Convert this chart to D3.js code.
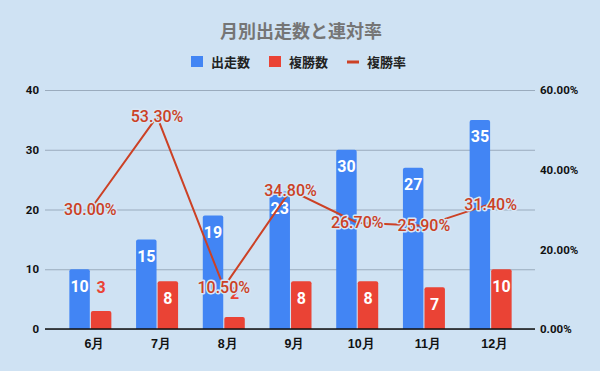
<!DOCTYPE html>
<html>
<head>
<meta charset="utf-8">
<script src="https://cdn.jsdelivr.net/npm/d3@7"></script>
<style>
  body { margin: 0; background: #cfe2f3; }
  svg { display: block; font-family: "Roboto", "Noto Sans CJK JP", sans-serif; }
</style>
</head>
<body>
<div id="chart"></div>
<script>
// データ
var months = ["6月", "7月", "8月", "9月", "10月", "11月", "12月"];
var starts = [10, 15, 19, 23, 30, 27, 35];      // 出走数
var places = [3, 8, 2, 8, 8, 7, 10];            // 複勝数
var rates = [30.0, 53.3, 10.5, 34.8, 26.7, 25.9, 31.4]; // 複勝率(%)
var leftTicks = [0, 10, 20, 30, 40];
var rightTicks = [0, 20, 40, 60];

var width = 600, height = 371;
var blue = "#4285f4", red = "#ea4335", lineRed = "#cc4125";

var svg = d3.select("#chart").append("svg")
    .attr("width", width)
    .attr("height", height);

svg.append("rect").attr("width", width).attr("height", height).attr("fill", "#cfe2f3");

var x = d3.scaleBand().domain(months).range([57, 524]);
var sub = d3.scaleBand().domain(["s", "p"]).range([-21, 21]).paddingInner(0.05);
var y = d3.scaleLinear().domain([0, 40]).range([329, 90]);
var yr = d3.scaleLinear().domain([0, 60]).range([329, 90]);

// タイトル
svg.append("text")
    .attr("x", 301).attr("y", 38)
    .attr("text-anchor", "middle")
    .attr("font-size", 18).attr("font-weight", "bold")
    .attr("fill", "#757575")
    .text("月別出走数と連対率");

// 凡例
var legend = svg.append("g").attr("font-size", 13).attr("font-weight", "bold").attr("fill", "#222");
legend.append("rect").attr("x", 191).attr("y", 56).attr("width", 12).attr("height", 11).attr("fill", blue);
legend.append("text").attr("x", 211).attr("y", 66.5).text("出走数");
legend.append("rect").attr("x", 269).attr("y", 56).attr("width", 12).attr("height", 11).attr("fill", red);
legend.append("text").attr("x", 289).attr("y", 66.5).text("複勝数");
legend.append("line").attr("x1", 347).attr("x2", 359).attr("y1", 62).attr("y2", 62)
    .attr("stroke", lineRed).attr("stroke-width", 3);
legend.append("text").attr("x", 367).attr("y", 66.5).text("複勝率");

// グリッド線
svg.append("g")
    .attr("transform", "translate(45,0)")
    .call(d3.axisLeft(y).tickValues(leftTicks).tickSize(-490).tickFormat(""))
    .call(function (g) {
        g.select(".domain").remove();
        g.selectAll("line").attr("stroke", "#9aabbd").attr("stroke-width", 1);
    });

// 左軸
svg.append("g")
    .attr("transform", "translate(45,0)")
    .call(d3.axisLeft(y).tickValues(leftTicks).tickSize(0).tickPadding(6))
    .call(function (g) {
        g.select(".domain").remove();
        g.selectAll("text").attr("font-size", 11.5).attr("font-weight", "bold")
            .attr("fill", "#111").attr("font-family", "Roboto, sans-serif");
    });

// 右軸
svg.append("g")
    .attr("transform", "translate(535,0)")
    .call(d3.axisRight(yr).tickValues(rightTicks).tickSize(0).tickPadding(5)
        .tickFormat(function (d) { return d.toFixed(2) + "%"; }))
    .call(function (g) {
        g.select(".domain").remove();
        g.selectAll("text").attr("font-size", 11.5).attr("font-weight", "bold")
            .attr("fill", "#111").attr("font-family", "Roboto, sans-serif");
    });

// 棒（上の角だけ丸める）
function barPath(x0, w, top, bottom) {
    var r = 2;
    return "M" + x0 + "," + bottom +
        "V" + (top + r) +
        "Q" + x0 + "," + top + " " + (x0 + r) + "," + top +
        "H" + (x0 + w - r) +
        "Q" + (x0 + w) + "," + top + " " + (x0 + w) + "," + (top + r) +
        "V" + bottom + "Z";
}

var groups = svg.selectAll(".grp")
    .data(months)
    .enter()
    .append("g")
    .attr("class", "grp")
    .attr("transform", function (d) { return "translate(" + (x(d) + x.bandwidth() / 2) + ",0)"; });

groups.append("path")
    .attr("fill", blue)
    .attr("d", function (d, i) { return barPath(sub("s"), sub.bandwidth(), y(starts[i]), y(0)); });

groups.append("path")
    .attr("fill", red)
    .attr("d", function (d, i) { return barPath(sub("p"), sub.bandwidth(), y(places[i]), y(0)); });

// 棒のラベル
function barLabel(sel, key, values, color) {
    sel.append("text")
        .attr("x", sub(key) + sub.bandwidth() / 2)
        .attr("y", function (d, i) {
            var h = y(0) - y(values[i]);
            return h < 30 ? y(values[i]) - 24 : y(values[i]) + 17;
        })
        .attr("dy", "0.35em")
        .attr("text-anchor", "middle")
        .attr("font-size", 16).attr("font-weight", "bold")
        .attr("fill", function (d, i) { return (y(0) - y(values[i])) < 30 ? color : "#fff"; })
        .text(function (d, i) { return values[i]; });
}
barLabel(groups, "s", starts, blue);
barLabel(groups, "p", places, red);

// 基準線
svg.append("line")
    .attr("x1", 45).attr("x2", 535)
    .attr("y1", y(0)).attr("y2", y(0))
    .attr("stroke", "#111").attr("stroke-width", 1.5);

// X軸ラベル
svg.append("g")
    .attr("transform", "translate(0," + y(0) + ")")
    .call(d3.axisBottom(x).tickSize(0).tickPadding(10))
    .call(function (g) {
        g.select(".domain").remove();
        g.selectAll("text").attr("font-size", 12.5).attr("font-weight", "bold")
            .attr("fill", "#111").attr("dx", 4);
    });

// 折れ線
var line = d3.line()
    .x(function (d, i) { return x(months[i]) + x.bandwidth() / 2; })
    .y(function (d) { return yr(d); });

svg.append("path")
    .datum(rates)
    .attr("fill", "none")
    .attr("stroke", lineRed)
    .attr("stroke-width", 2)
    .attr("d", line);

svg.selectAll(".rate")
    .data(rates)
    .enter()
    .append("text")
    .attr("class", "rate")
    .attr("x", function (d, i) { return x(months[i]) + x.bandwidth() / 2; })
    .attr("y", function (d) { return yr(d); })
    .attr("dy", "0.35em")
    .attr("text-anchor", "middle")
    .attr("font-size", 16).attr("font-weight", 500)
    .attr("fill", lineRed)
    .attr("stroke", "#d6e6f5").attr("stroke-width", 3)
    .attr("paint-order", "stroke")
    .attr("stroke-linejoin", "round")
    .text(function (d) { return d.toFixed(2) + "%"; });
</script>
</body>
</html>
